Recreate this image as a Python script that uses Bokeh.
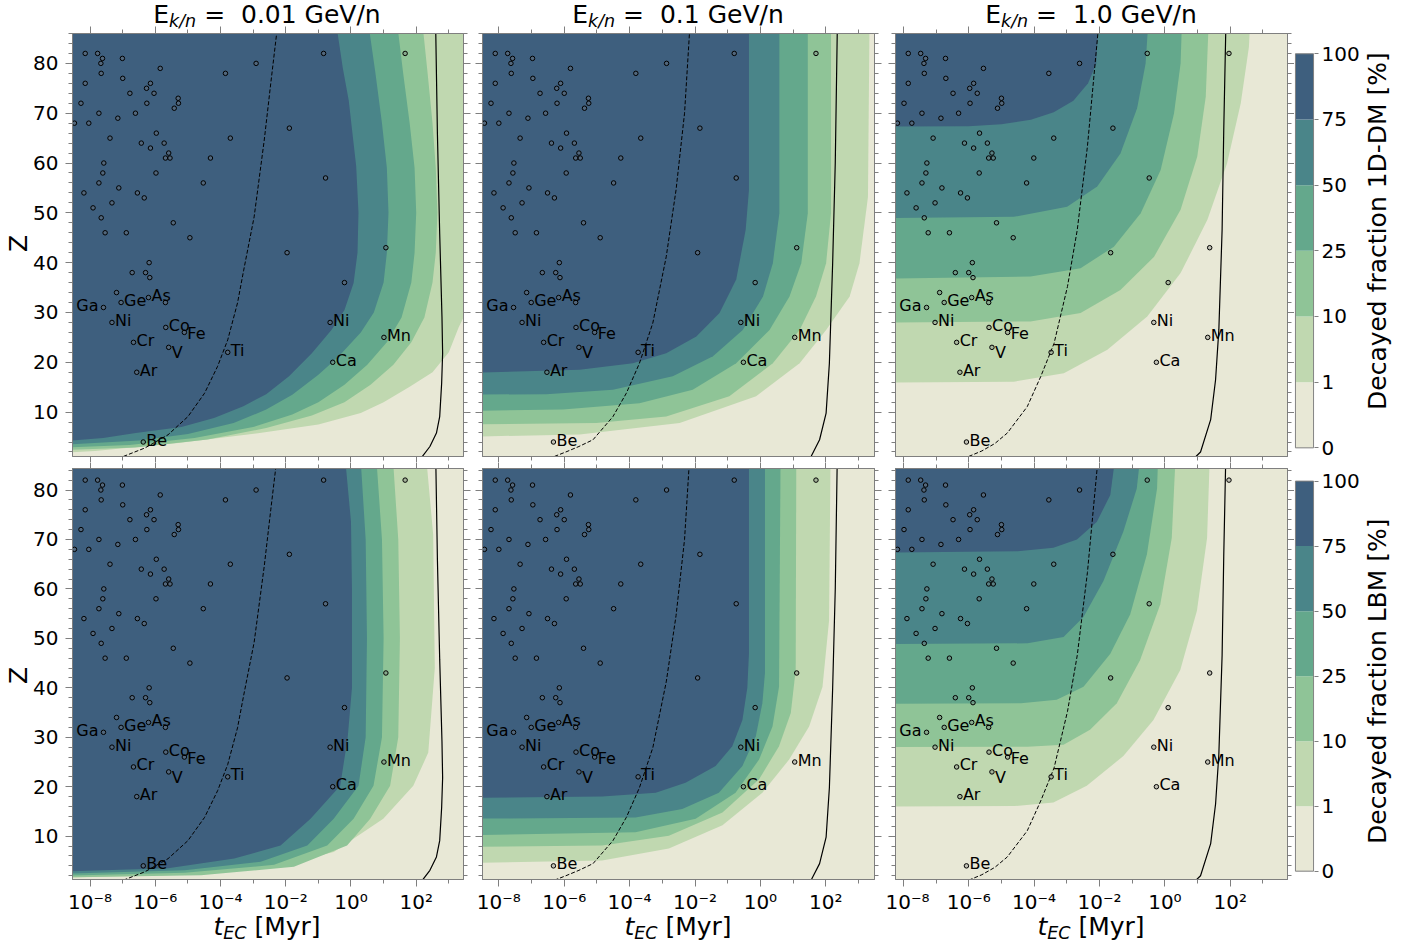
import math
from bokeh.plotting import figure
from bokeh.models import (Range1d, LogAxis, LinearAxis, FixedTicker,
                          CustomJSTickFormatter, Div, Spacer, InlineStyleSheet)
from bokeh.layouts import row, column
from bokeh.embed import file_html
from bokeh.resources import INLINE
from bokeh.core.properties import value

# ------------------------------------------------------------------ data
energies = ["0.01", "0.1", "1.0"]
models = ["1D-DM", "LBM"]
level_values = [0, 1, 10, 25, 50, 75, 100]
band_colors = ["#e8e8d6", "#c0d8b0", "#8fc497", "#64a88c", "#4a8589", "#3e5f7e"]

# log10 shift of the time axis for each energy (time dilation)
axis_shift = [0.0, 0.04, 0.30]
xlim_base = (-8.54, 3.45)
ylim_rows = [(1.09, 86.0), (1.24, 84.35)]

# unlabelled isotopes: log10(t_EC / Myr) at 0.01 GeV/n, and Z
pt_logt = [-8.15, -7.77, -7.62, -7.67, -7.66, -7.01, -7.00, -8.15, -5.85, -6.78, -6.27, -6.15,
           -6.04, -6.26, -8.28, -7.73, -6.61, -8.48, -8.04, -7.15, -5.30, -5.29, -5.42, -3.85,
           -2.91, -7.39, -6.43, -5.97, -6.15, -5.73, -5.59, -5.69, -5.55, -7.58, -7.61, -5.98,
           -4.31, -3.70, -1.89, -7.73, -8.19, -7.12, -6.55, -6.34, -7.33, -7.91, -7.66, -7.54,
           -6.89, -5.45, -4.94, -4.53, -0.78, -0.84, 1.66, -1.96, 1.07, -0.20, -6.19, -6.71,
           -6.30, -6.17, -7.19, -5.69]
pt_z = [82, 82, 81, 80, 78, 81, 77, 76, 79, 74, 75, 76, 74, 72, 72, 70, 70, 68, 68, 69, 73, 72,
        71, 78, 80, 65, 64, 66, 63, 64, 62, 61, 61, 60, 58, 58, 61, 65, 67, 56, 54, 55, 54, 53,
        52, 51, 49, 46, 46, 48, 45, 56, 57, 82, 82, 42, 43, 36, 40, 38, 38, 37, 34, 32]

# labelled isotopes
lab_names = ["Ge", "As", "Ga", "Ni", "Co", "Fe", "Cr", "V", "Ti", "Ar", "Ni", "Ca", "Mn", "Be"]
lab_logt = [-7.05, -6.21, -7.59, -7.33, -5.68, -5.11, -6.67, -5.59, -3.78, -6.57, -0.64, -0.56, 1.01, -6.37]
lab_z = [32, 33, 31, 28, 27, 26, 24, 23, 22, 18, 28, 20, 25, 4]

# dashed and solid reference curves (log10 t, Z) per energy
dash_e0_logt = [-6.98, -6.32, -5.61, -5.0, -4.49, -4.09, -3.78, -3.48, -3.29, -2.97, -2.66, -2.46, -2.28]
dash_e0_z = [1.1, 2.8, 5.45, 9.1, 13.8, 19.2, 24.5, 31.9, 38.5, 49.2, 64.6, 76, 86]
dash_e1_logt = [-6.3, -5.95, -5.55, -5.12, -4.51, -4.10, -3.70, -3.29, -2.88, -2.58, -2.32, -2.17]
dash_e1_z = [1.1, 2.0, 3.1, 4.45, 9.1, 13.8, 19.8, 27.9, 41.2, 54.6, 70, 86]
dash_e2_logt = [-6.0, -5.6, -5.2, -4.82, -4.21, -3.80, -3.39, -2.98, -2.68, -2.37, -2.05]
dash_e2_z = [1.1, 2.2, 3.7, 5.8, 11.1, 17.1, 23.8, 35.2, 46.6, 63.3, 86]

solid_e0_logt = [2.19, 2.42, 2.62, 2.72, 2.78, 2.81, 2.79, 2.72, 2.65, 2.60]
solid_e0_z = [1.1, 3.1, 5.8, 9.1, 15.8, 21.8, 29.1, 45.8, 65.9, 86]
solid_e1_logt = [1.55, 1.81, 2.01, 2.11, 2.21, 2.29, 2.35]
solid_e1_z = [1.1, 4.45, 9.8, 19.8, 39.9, 60, 86]
solid_e2_logt = [0.95, 1.09, 1.40, 1.55, 1.65, 1.75, 1.80, 1.86]
solid_e2_z = [1.1, 2.0, 8.5, 16.5, 26.5, 46.6, 66.6, 86]

# contour boundaries of the decayed fraction (level -> (log10 t, Z)), from top edge to left edge
bands_1ddm_e0 = {
    1: ([4.0, 3.6, 3.3, 3.0, 2.5, 1.8, 1.0, 0.3, -1.0, -2.8, -5.3, -7.85, -9.5],
        [90, 31, 27, 22, 18, 15.1, 12, 9.8, 7.5, 5.8, 3.8, 2.2, 1.6]),
    10: ([2.16, 2.35, 2.5, 2.6, 2.65, 2.6, 2.5, 2.25, 1.85, 1.3, 0.6, -0.2, -1.2, -2.6, -4.4, -6.6, -9.5],
         [90, 78, 68, 59, 50, 42, 36, 29, 24, 19.5, 15.5, 12, 9.3, 6.8, 4.5, 2.9, 2.2]),
    25: ([1.38, 1.6, 1.8, 1.95, 2.0, 1.95, 1.85, 1.55, 1.1, 0.5, -0.2, -1.0, -1.8, -3.0, -4.8, -6.8, -9.5],
         [90, 78, 68, 59, 50, 42, 36, 29, 24, 19.5, 15.5, 12, 9.5, 7.0, 4.8, 3.4, 2.7]),
    50: ([0.49, 0.75, 0.95, 1.1, 1.15, 1.1, 1.0, 0.7, 0.3, -0.4, -1.0, -1.8, -2.6, -3.6, -5.0, -6.5, -9.5],
         [90, 78, 68, 59, 50, 42, 36, 30, 26, 21, 17.5, 13.5, 10.5, 7.8, 5.6, 4.3, 3.2]),
    75: ([-0.50, -0.25, -0.07, 0.16, 0.23, 0.2, 0.08, -0.2, -0.6, -1.2, -1.9, -2.6, -3.3, -4.2, -5.2, -6.6, -7.6, -9.5],
         [90, 79, 72.6, 59.3, 50, 42, 35.9, 30.5, 26.5, 21.8, 17.2, 13.6, 11.2, 8.8, 7.0, 5.8, 4.8, 3.8]),
}
bands_1ddm_e1 = {
    1: ([3.34, 3.29, 3.03, 2.73, 2.01, 1.20, -0.13, -2.47, -5.53, -9.5],
        [90, 53.2, 39.9, 33.2, 26.5, 19.8, 13.2, 7.8, 5.5, 5.0]),
    10: ([2.16, 2.16, 2.01, 1.70, 1.20, 0.38, -0.95, -2.88, -5.02, -9.5],
         [90, 49.9, 39.9, 33.2, 26.5, 19.8, 13.2, 9.1, 7.8, 7.5]),
    25: ([1.45, 1.45, 1.25, 0.89, 0.28, -0.74, -2.07, -3.70, -6.04, -9.5],
         [90, 49.9, 39.9, 33.2, 26.5, 19.8, 14.5, 11.8, 10.5, 10.2]),
    50: ([0.58, 0.58, 0.38, 0.08, -0.54, -1.45, -2.68, -4.51, -6.55, -9.5],
         [90, 49.9, 39.9, 33.2, 26.5, 21.2, 17.2, 14.5, 13.6, 13.5]),
    75: ([-0.35, -0.35, -0.45, -0.74, -1.25, -1.96, -2.88, -3.90, -5.53, -9.5],
         [90, 54.6, 46.6, 36.6, 29.9, 25.2, 21.8, 19.8, 18.5, 17.8]),
}
bands_1ddm_e2 = {
    1: ([2.62, 2.57, 2.32, 1.90, 1.30, 0.48, -0.54, -1.76, -3.09, -4.62, -9.5],
        [90, 83.3, 72, 59.9, 48.6, 37.9, 29.2, 22.5, 17.8, 16.1, 15.9]),
    10: ([1.35, 1.25, 0.99, 0.48, -0.33, -1.36, -2.58, -4.11, -9.5],
         [90, 73.3, 61.3, 50.6, 41.2, 34.5, 29.9, 28.2, 27.9]),
    25: ([0.53, 0.48, 0.28, -0.13, -0.74, -1.56, -2.58, -4.11, -9.5],
         [90, 80, 70, 58.6, 49.9, 43.2, 38.9, 37.2, 36.7]),
    50: ([-0.49, -0.59, -0.85, -1.36, -2.07, -2.99, -4.62, -9.5],
         [90, 80, 71, 61.9, 55.3, 51.2, 49.2, 48.9]),
    75: ([-2.02, -2.1, -2.35, -2.8, -3.4, -4.1, -5.0, -6.0, -9.5],
         [90, 80, 76, 72.5, 70.2, 68.7, 67.8, 67.4, 67.3]),
}
bands_lbm_e0 = {
    1: ([2.26, 2.52, 2.57, 2.37, 1.91, 0.99, -0.53, -2.56, -5.6, -9.5],
        [90, 71, 44, 26.9, 20.2, 13.5, 6.8, 3.5, 2.1, 1.5]),
    10: ([1.25, 1.45, 1.5, 1.45, 1.2, 0.59, -0.12, -1.75, -4.6, -9.5],
         [90, 70, 50, 30, 20.2, 13.5, 8.1, 3.8, 2.1, 1.6]),
    25: ([0.74, 0.95, 1.0, 0.95, 0.69, 0.08, -0.73, -2.36, -5.1, -9.5],
         [90, 70, 50, 30, 20.2, 13.5, 8.1, 4.2, 2.6, 1.9]),
    50: ([0.26, 0.45, 0.49, 0.45, 0.23, -0.53, -1.34, -2.77, -5.1, -9.5],
         [90, 70, 50, 30, 20.2, 13.5, 8.1, 4.85, 3.1, 2.3]),
    75: ([-0.23, 0.0, 0.03, 0.03, -0.1, -0.33, -1.24, -2.16, -3.58, -5.61, -9.5],
         [90, 73.6, 60, 40, 30, 20.2, 13.5, 8.1, 5.5, 3.5, 2.7]),
}
bands_lbm_e1 = {
    1: ([2.15, 2.10, 1.90, 1.49, 0.88, 0.06, -1.16, -2.80, -4.84, -9.5],
        [90, 53.6, 40.2, 32.2, 25.5, 18.8, 12.2, 7.5, 5.1, 4.5]),
    10: ([1.10, 1.08, 0.93, 0.57, -0.04, -1.16, -2.80, -4.84, -9.5],
         [90, 43.6, 34.9, 28.2, 21.5, 14.8, 10.1, 8.1, 7.8]),
    25: ([0.62, 0.57, 0.37, -0.04, -0.76, -1.98, -3.82, -9.5],
         [90, 40.2, 32.2, 25.5, 18.8, 13.5, 10.8, 10.1]),
    50: ([0.14, 0.14, 0.06, -0.14, -0.55, -1.27, -2.39, -3.82, -9.5],
         [90, 43, 36.9, 30.2, 24.2, 18.8, 15.5, 13.8, 13.5]),
    75: ([-0.35, -0.35, -0.40, -0.55, -0.86, -1.37, -2.29, -3.20, -4.84, -9.5],
         [90, 46.9, 40, 33.5, 28.2, 24.2, 20.8, 18.8, 18.0, 17.7]),
}
bands_lbm_e2 = {
    1: ([1.39, 1.29, 0.98, 0.47, -0.35, -1.27, -2.39, -3.41, -4.6, -9.5],
        [90, 70.3, 55.6, 43.6, 33.5, 26.2, 20.2, 16.8, 16.1, 16.0]),
    10: ([0.35, 0.21, -0.14, -0.76, -1.47, -2.29, -3.10, -4.2, -9.5],
         [90, 70.3, 56.9, 45.6, 36.9, 31.5, 28.5, 28.1, 28.0]),
    25: ([-0.19, -0.24, -0.55, -1.06, -1.67, -2.49, -3.31, -4.4, -9.5],
         [90, 80.3, 67, 54.9, 46.9, 40.2, 37.6, 36.9, 36.75]),
    50: ([-0.70, -0.86, -1.27, -1.88, -2.49, -3.10, -4.2, -9.5],
         [90, 80.3, 71.6, 61.6, 54.3, 50.3, 49.0, 48.8]),
    75: ([-1.45, -1.67, -2.08, -2.69, -3.41, -4.5, -9.5],
         [90, 79, 73.6, 70, 68.3, 67.6, 67.3]),
}

# ------------------------------------------------------------------ styles / layout
FONT = "DejaVu Sans"
GRAY = "#7f7f7f"
FW = 392
FH = [423, 414]
LEFT_B = [41, 10, 10]
RIGHT_B = [9, 11, 7]
TOP_B = [8, 6]
BOT_B = [6, 34]
ZDIV_W = 22
CB_RANGE = [(-0.132, 6.309), (-0.128, 6.194)]

label_style = {2: ("right", "alphabetic", -5, -2), 5: ("left", "middle", 3, 1), 7: ("left", "top", 3, -4)}
default_style = ("left", "alphabetic", 3, -2)

sup_js = r"""
const e = Math.round(Math.log10(tick));
const m = {"-":"\u207b","0":"\u2070","1":"\u00b9","2":"\u00b2","3":"\u00b3","4":"\u2074",
           "5":"\u2075","6":"\u2076","7":"\u2077","8":"\u2078","9":"\u2079"};
let s = "";
for (const c of String(e)) { s += m[c]; }
return "10" + s;
"""
empty_fmt = CustomJSTickFormatter(code="return '';")
log_fmt = CustomJSTickFormatter(code=sup_js)
vis_css = InlineStyleSheet(css=":host{overflow:visible !important;} div{overflow:visible !important;}")


def text_div(html, w, h, styles):
    st = {"font-family": FONT, "color": "black", "white-space": "pre", "overflow": "visible",
          "box-sizing": "border-box"}
    st.update(styles)
    return Div(text=html, width=w, height=h, margin=0, styles=st, stylesheets=[vis_css])


def x_ticker():
    return FixedTicker(ticks=[10.0 ** k for k in range(-8, 3, 2)],
                       minor_ticks=[10.0 ** k for k in range(-9, 5)])


def y_ticker():
    return FixedTicker(ticks=list(range(10, 90, 10)), minor_ticks=list(range(2, 88, 2)))


def style_axis(ax, show, tick_out=7, standoff=7):
    ax.axis_line_color = GRAY
    ax.major_tick_line_color = GRAY
    ax.minor_tick_line_color = GRAY
    ax.major_tick_in = 0
    ax.minor_tick_in = 0
    ax.major_tick_out = tick_out
    ax.minor_tick_out = 4
    if show:
        ax.major_label_text_font = FONT
        ax.major_label_text_font_size = "20px"
        ax.major_label_text_color = "black"
        ax.major_label_standoff = standoff
    else:
        ax.formatter = empty_fmt
        ax.major_label_text_font_size = "0px"
        ax.major_label_standoff = 0


def band_polygon(bx, bz):
    xs = [10.0 ** v for v in bx] + [1e-12, 1e-12, 10.0 ** bx[0]]
    ys = list(bz) + [bz[-1], 200, 200]
    return xs, ys


def make_panel(r, c, bands, dash, solid):
    s = axis_shift[c]
    p = figure(width=LEFT_B[c] + FW + RIGHT_B[c], height=TOP_B[r] + FH[r] + BOT_B[r],
               x_axis_type="log",
               x_range=Range1d(10 ** (xlim_base[0] + s), 10 ** (xlim_base[1] + s)),
               y_range=Range1d(*ylim_rows[r]),
               min_border_left=LEFT_B[c], min_border_right=RIGHT_B[c],
               min_border_top=TOP_B[r], min_border_bottom=BOT_B[r],
               output_backend="svg", toolbar_location=None,
               background_fill_color=band_colors[0], border_fill_color=None,
               outline_line_color=GRAY)
    p.grid.visible = False

    for k, lev in enumerate([1, 10, 25, 50, 75]):
        bx, bz = bands[lev]
        xs, ys = band_polygon(bx, bz)
        p.patch(xs, ys, fill_color=band_colors[k + 1], line_color=None)

    p.line([10 ** v for v in dash[0]], dash[1], line_color="black", line_width=1, line_dash="4 2")
    p.line([10 ** v for v in solid[0]], solid[1], line_color="black", line_width=1.2)

    p.scatter([10 ** (v + s) for v in pt_logt + lab_logt], pt_z + lab_z, marker="circle", size=4.5,
              fill_color="#777777", fill_alpha=0.35, line_color="black", line_width=1)
    for i, name in enumerate(lab_names):
        al, bl, dx, dy = label_style.get(i, default_style)
        p.text([10 ** (lab_logt[i] + s)], [lab_z[i]], text=[name], x_offset=dx, y_offset=dy,
               text_align=al, text_baseline=bl, text_font=value(FONT), text_font_size="16px",
               text_color="black")

    xa = p.xaxis[0]
    xa.ticker = x_ticker()
    ya = p.yaxis[0]
    ya.ticker = y_ticker()
    style_axis(xa, r == 1, tick_out=(6 if r == 0 else 7), standoff=3)
    if r == 1:
        xa.formatter = log_fmt
    style_axis(ya, c == 0, standoff=7)
    top_ax = LogAxis(ticker=x_ticker())
    style_axis(top_ax, False, tick_out=(7 if r == 0 else 6))
    p.add_layout(top_ax, "above")
    right_ax = LinearAxis(ticker=y_ticker())
    style_axis(right_ax, False)
    p.add_layout(right_ax, "right")
    return p


def make_cbar(r):
    cb = figure(width=68, height=TOP_B[r] + FH[r] + BOT_B[r],
                x_range=Range1d(-0.05, 1.05), y_range=Range1d(*CB_RANGE[r]),
                min_border_left=0, min_border_right=47, min_border_top=TOP_B[r],
                min_border_bottom=BOT_B[r],
                x_axis_location=None, y_axis_location="right",
                output_backend="svg", toolbar_location=None, outline_line_color=None,
                border_fill_color=None, background_fill_color=None)
    cb.grid.visible = False
    cb.quad(left=0, right=1, bottom=list(range(6)), top=list(range(1, 7)),
            fill_color=band_colors, line_color=None)
    cb.quad(left=[0], right=[1], bottom=[0], top=[6], fill_color=None, line_color=GRAY, line_width=1)
    ax = cb.yaxis[0]
    ax.ticker = FixedTicker(ticks=list(range(7)), minor_ticks=[])
    ax.major_label_overrides = {i: str(v) for i, v in enumerate(level_values)}
    ax.axis_line_color = None
    ax.major_tick_line_color = GRAY
    ax.major_tick_in = 0
    ax.major_tick_out = 4
    ax.minor_tick_line_color = None
    ax.major_label_standoff = 3
    ax.major_label_text_font = FONT
    ax.major_label_text_font_size = "20px"
    ax.major_label_text_color = "black"
    return cb


def vertical_div(text, w, h, line_h):
    return text_div(text, w, h, {"writing-mode": "vertical-rl", "transform": "rotate(180deg)",
                                 "text-align": "center", "font-size": "25px",
                                 "line-height": f"{line_h}px"})


SUB = '<span style="font-size:17.5px;font-style:italic;position:relative;top:3.5px">{}</span>'

dash_sets = [(dash_e0_logt, dash_e0_z), (dash_e1_logt, dash_e1_z), (dash_e2_logt, dash_e2_z)]
solid_sets = [(solid_e0_logt, solid_e0_z), (solid_e1_logt, solid_e1_z), (solid_e2_logt, solid_e2_z)]
band_sets = [[bands_1ddm_e0, bands_1ddm_e1, bands_1ddm_e2], [bands_lbm_e0, bands_lbm_e1, bands_lbm_e2]]

gap_w = [ZDIV_W + LEFT_B[0], RIGHT_B[0] + LEFT_B[1], RIGHT_B[1] + LEFT_B[2]]

title_items = []
for c in range(3):
    title_items.append(Spacer(width=gap_w[c], height=17, margin=0))
    html = "E" + SUB.format("k/n") + " =  " + energies[c] + " GeV/n"
    title_items.append(text_div(html, FW, 17, {"text-align": "center", "font-size": "25px",
                                                "line-height": "13.3px"}))

rows = [row(*title_items)]
z_heights = [437, 426]
cbl_heights = [413, 439]
for r in range(2):
    items = [vertical_div("Z", ZDIV_W, z_heights[r], 22)]
    items += [make_panel(r, c, band_sets[r][c], dash_sets[c], solid_sets[c]) for c in range(3)]
    items.append(make_cbar(r))
    items.append(vertical_div("Decayed fraction " + models[r] + " [%]", 36, cbl_heights[r], 32))
    rows.append(row(*items))

xl_items = []
for c in range(3):
    xl_items.append(Spacer(width=gap_w[c], height=25, margin=0))
    html = "<i>t</i>" + SUB.format("EC") + " [Myr]"
    xl_items.append(text_div(html, FW, 25, {"text-align": "center", "font-size": "25px",
                                             "line-height": "22.7px"}))
rows.append(row(*xl_items))

layout = column(*rows, margin=(8, 0, 0, 8))
open("out.html", "w").write(file_html(layout, INLINE))
